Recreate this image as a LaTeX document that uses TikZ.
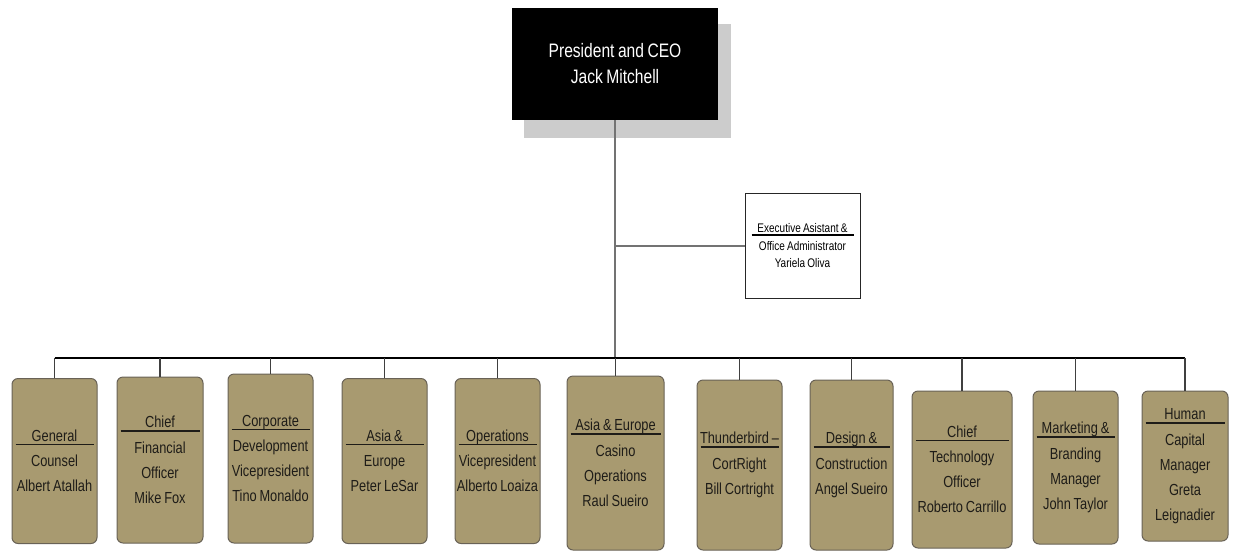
\documentclass[tikz,border=0pt]{standalone}
\usepackage{fontspec}
\setmainfont{Liberation Sans}[FakeStretch=0.8,WordSpace=0.8]

\definecolor{unitfill}{RGB}{168,154,112}
\definecolor{unitline}{RGB}{105,98,86}
\definecolor{unittext}{RGB}{30,28,24}
\definecolor{ceoshade}{RGB}{204,204,204}
\definecolor{trunkgray}{RGB}{115,115,115}

% title line with a bar under it
\newcommand{\hd}[1]{#1\\[-0.84\baselineskip]\rule{\dimexpr\hsize-5pt\relax}{1.5pt}\\[-0.14\baselineskip]}

\tikzset{
    ceo/.style={fill=black, text=white, minimum width=206pt, minimum height=112pt, align=flush center, font=\fontsize{19.5}{26}\selectfont},
    asst/.style={draw=black!85, fill=white, line width=1pt, inner xsep=4pt, text width=107pt, minimum height=105pt, align=flush center, font=\fontsize{12.5}{17}\selectfont},
    unit/.style 2 args={draw=unitline, fill=unitfill, rounded corners=6pt, line width=1pt, inner xsep=1pt, inner ysep=0pt, text width=#1, minimum height=#2, align=flush center, text=unittext, font=\fontsize{16}{25}\selectfont},
    trunk/.style={draw=trunkgray, line width=2pt},
    busline/.style={draw=black, line width=2pt},
    drop/.style={draw=black!75, line width=1.5pt}
}

\begin{document}
\begin{tikzpicture}[x=1pt,y=-1pt]
    \useasboundingbox (0,0) rectangle (1234,550);

    %CEO
    \fill[ceoshade] (524,24) rectangle (731,138);
    \node[ceo] (ceo) at (615,64) {President and CEO\\Jack Mitchell};

    %Assistant
    \node[asst] (asst) at (802.5,245.5) {\hd{Executive Asistant \&}Office Administrator\\Yariela Oliva};

    %Units
    \coordinate (bus) at (615,358);
    \node[unit={83pt}{165pt}] (u1) at (54.5,461) {\hd{General}Counsel\\Albert Atallah};
    \node[unit={84pt}{166pt}] (u2) at (160,460) {\hd{Chief}Financial\\Officer\\Mike Fox};
    \node[unit={83pt}{169pt}] (u3) at (270.5,458.5) {\hd{Corporate}Development\\Vicepresident\\Tino Monaldo};
    \node[unit={83pt}{165pt}] (u4) at (384.5,461) {\hd{Asia \&}Europe\\Peter LeSar};
    \node[unit={83pt}{165pt}] (u5) at (497.5,461) {\hd{Operations}Vicepresident\\Alberto Loaiza};
    \node[unit={95pt}{174pt}] (u6) at (615.5,463) {\hd{Asia \& Europe}Casino\\Operations\\Raul Sueiro};
    \node[unit={83pt}{170pt}] (u7) at (739.5,465) {\hd{Thunderbird –}CortRight\\Bill Cortright};
    \node[unit={81pt}{170pt}] (u8) at (851.5,465) {\hd{Design \&}Construction\\Angel Sueiro};
    \node[unit={98pt}{157pt}] (u9) at (962,469.5) {\hd{Chief}Technology\\Officer\\Roberto Carrillo};
    \node[unit={83pt}{153pt}] (u10) at (1075.5,467.5) {\hd{Marketing \&}Branding\\Manager\\John Taylor};
    \node[unit={84pt}{150pt}] (u11) at (1185,466) {\hd{Human}Capital\\Manager\\Greta\\Leignadier};

    %Lines
    \draw[trunk] (ceo.south) -- (ceo.south |- bus);
    \draw[trunk] (ceo.south |- asst.west) -- (asst.west);
    \draw[busline] (u1.north |- bus) -- (u11.north |- bus);
    \foreach \i in {1,...,11}
        \draw[drop] (u\i.north) -- (u\i.north |- bus);
\end{tikzpicture}
\end{document}
